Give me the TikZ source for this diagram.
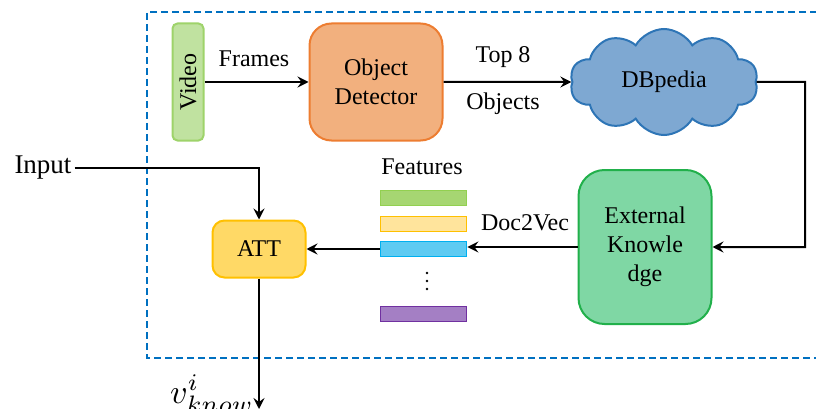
\documentclass[tikz,border=0pt]{standalone}
\usepackage{fontspec}
\setmainfont{Liberation Serif}
\usetikzlibrary{shapes.symbols,arrows.meta}
\definecolor{framec}{HTML}{0070C0}
\definecolor{vidfill}{HTML}{C0E2A0}
\definecolor{vidline}{HTML}{9ED36A}
\definecolor{odfill}{HTML}{F2B07E}
\definecolor{odline}{HTML}{ED7D31}
\definecolor{cloudfill}{HTML}{7EA8D2}
\definecolor{cloudline}{HTML}{2E75B6}
\definecolor{ekfill}{HTML}{7FD7A4}
\definecolor{ekline}{HTML}{21B04B}
\definecolor{attfill}{HTML}{FFD966}
\definecolor{attline}{HTML}{FFC000}
\definecolor{gbar}{HTML}{A6D672}
\definecolor{gbarl}{HTML}{92D050}
\definecolor{ybar}{HTML}{FFE49C}
\definecolor{ybarl}{HTML}{FFC000}
\definecolor{bbar}{HTML}{5FCBF2}
\definecolor{bbarl}{HTML}{00B0F0}
\definecolor{pbar}{HTML}{A47FC4}
\definecolor{pbarl}{HTML}{7030A0}
\begin{document}
\begin{tikzpicture}[x=1pt,y=-1pt,
  every node/.style={font=\fontsize{24}{29}\selectfont, inner sep=0pt},
  box/.style={draw, line width=2pt, align=center},
  bar/.style={draw, line width=1.8pt, minimum width=86pt, minimum height=15pt},
  arr/.style={draw=black, line width=2pt, -{Stealth[length=11pt,width=11pt,inset=4pt]}},
  lbl/.style={}
]
\path[use as bounding box] (0,0) rectangle (816,409);
% dashed frame
\draw[framec, line width=2pt, dash pattern=on 7pt off 4pt] (817,12) -- (147,12) -- (147,358) -- (817,358);

% nodes
\node[box, fill=vidfill, draw=vidline, minimum width=31pt, minimum height=117pt, rounded corners=5pt] (video) at (188,82) {\rotatebox{90}{Video}};
\node[box, fill=odfill, draw=odline, minimum width=133pt, minimum height=117pt, rounded corners=22pt] (od) at (376,82) {Object\\Detector};
\node[box, cloud, cloud puffs=10, cloud puff arc=120, aspect=1.9, fill=cloudfill, draw=cloudline, minimum width=188pt, minimum height=106pt, inner sep=0pt] (db) at (664,82) {DBpedia};
\node[box, fill=ekfill, draw=ekline, minimum width=133pt, minimum height=154pt, rounded corners=26pt] (ek) at (645,247) {External\\Knowle\\dge};
\node[box, fill=attfill, draw=attline, minimum width=93pt, minimum height=57pt, rounded corners=12pt] (att) at (259,249) {ATT};

\node[bar, fill=gbar, draw=gbarl] (g) at (423.5,198) {};
\node[bar, fill=ybar, draw=ybarl] (y) at (423.5,224) {};
\node[bar, fill=bbar, draw=bbarl] (b) at (423.5,249) {};
\node[bar, fill=pbar, draw=pbarl] (p) at (423.5,314) {};
\fill (427,273) circle (1.4pt) (427,281) circle (1.4pt) (427,289) circle (1.4pt);

% labels
\node (frames) at (254,59) {Frames};
\node (top) at (503,57) {Top 8};
\node (objs) at (503,104) {Objects};
\node (d2v) at (525,223) {Doc2Vec};
\node (feat) at (422,167) {Features};
\node[font=\fontsize{27}{30}\selectfont, inner sep=3pt] (input) at (43,168) {Input};
\node[font=\normalsize, anchor=base west] (vk) at (170,403) {\scalebox{3.4}{$v^{i}_{know}$}};
\coordinate (vout) at (259,409);
\coordinate (c1) at (805,82);

% connectors
\draw[arr] (video.east) -- (od.west);
\draw[arr] (od.east) -- (db.west);
\draw[arr] (db.east) -- (c1) |- (ek.east);
\draw[arr] (ek.west) -- (ek.west -| b.east);
\draw[arr] (b.west) -- (b.west -| att.east);
\draw[arr] (input.east) -| (att.north);
\draw[arr] (att.south) -- (vout);
\end{tikzpicture}
\end{document}
